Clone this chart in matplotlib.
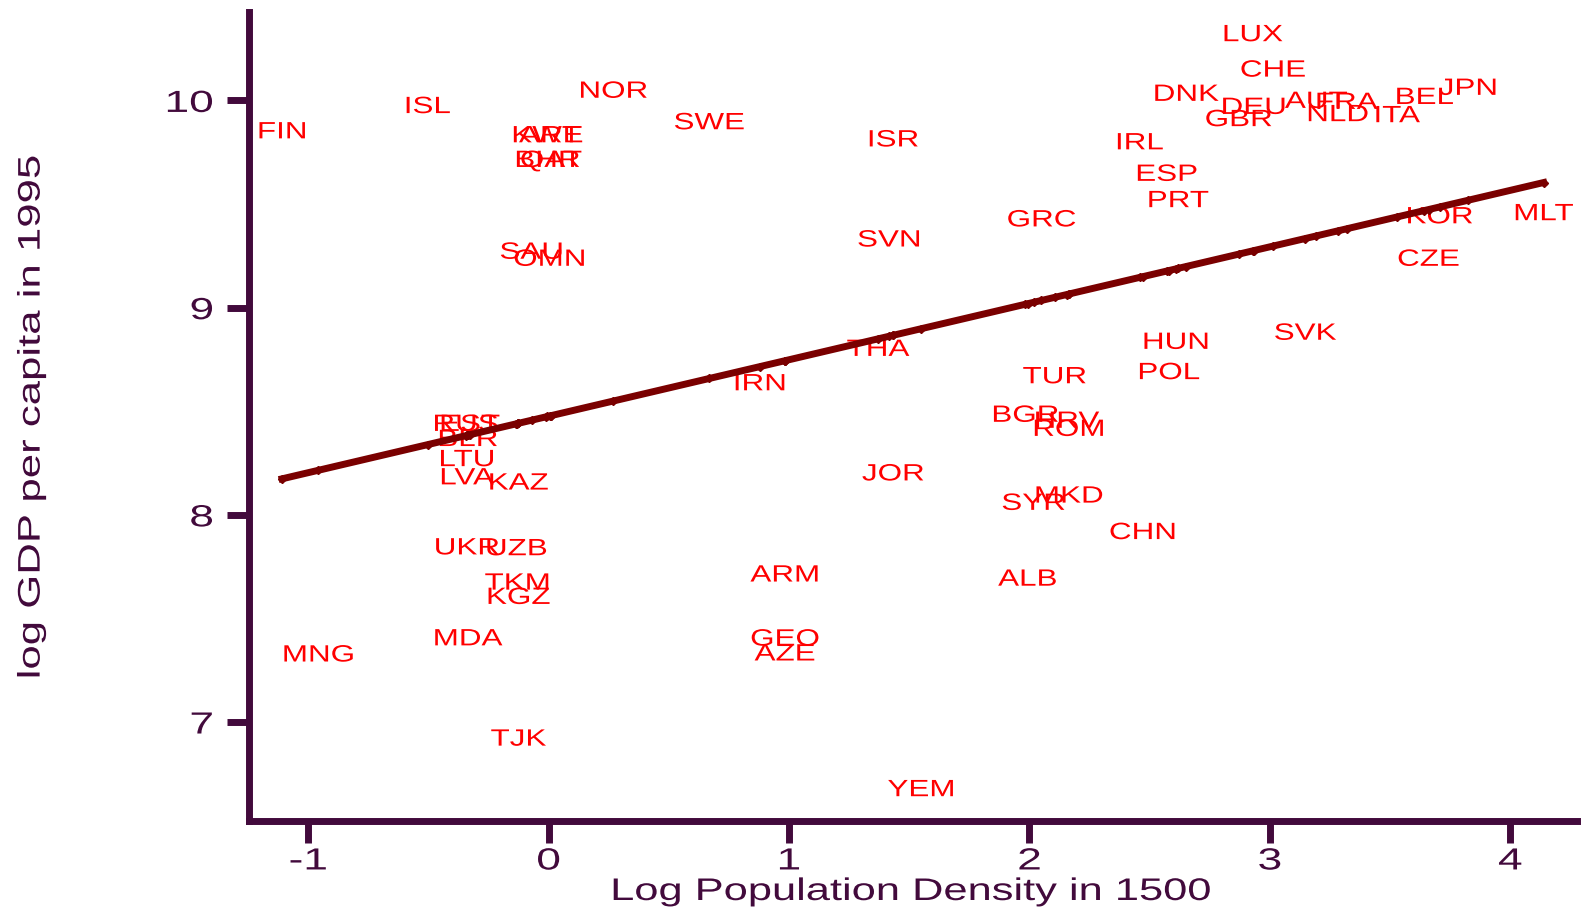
import matplotlib
matplotlib.use('Agg')
import matplotlib.pyplot as plt
import numpy as np
from matplotlib.patheffects import AbstractPathEffect
from matplotlib.transforms import Affine2D

# country codes with log pop density 1500 (x) and log GDP pc 1995 (y)
codes = ['FIN', 'ISL', 'NOR', 'SWE', 'KWT', 'ARE', 'BHR', 'QAT', 'SAU', 'OMN',
         'ISR', 'SVN', 'THA', 'IRN', 'GRC', 'IRL', 'ESP', 'PRT', 'DNK', 'LUX',
         'CHE', 'DEU', 'GBR', 'AUT', 'FRA', 'NLD', 'ITA', 'BEL', 'JPN', 'KOR',
         'MLT', 'CZE', 'SVK', 'HUN', 'POL', 'TUR', 'BGR', 'HRV', 'ROM', 'JOR',
         'SYR', 'MKD', 'CHN', 'ALB', 'ARM', 'GEO', 'AZE', 'YEM', 'TJK', 'MNG',
         'MDA', 'UKR', 'UZB', 'TKM', 'KGZ', 'LVA', 'KAZ', 'LTU', 'BLR', 'RUS',
         'EST']
logdens = [-1.109, -0.504, 0.269, 0.668, -0.010, 0.010, -0.005, 0.010, -0.071, 0.004,
           1.433, 1.416, 1.370, 0.878, 2.050, 2.458, 2.571, 2.618, 2.651, 2.929,
           3.013, 2.933, 2.870, 3.193, 3.319, 3.282, 3.529, 3.643, 3.824, 3.706,
           4.139, 3.660, 3.147, 2.609, 2.580, 2.105, 1.983, 2.155, 2.164, 1.433,
           2.017, 2.164, 2.471, 1.992, 0.983, 0.983, 0.983, 1.550, -0.126, -0.958,
           -0.336, -0.340, -0.134, -0.130, -0.126, -0.340, -0.126, -0.340, -0.336, -0.345,
           -0.328]
loggdp = [9.858, 9.980, 10.054, 9.902, 9.839, 9.839, 9.720, 9.720, 9.277, 9.243,
          9.819, 9.336, 8.808, 8.642, 9.433, 9.805, 9.653, 9.526, 10.039, 10.327,
          10.156, 9.976, 9.917, 10.005, 10.000, 9.941, 9.936, 10.024, 10.068, 9.448,
          9.463, 9.243, 8.886, 8.842, 8.696, 8.676, 8.490, 8.461, 8.422, 8.207,
          8.065, 8.100, 7.924, 7.699, 7.719, 7.410, 7.338, 6.683, 6.927, 7.333,
          7.411, 7.850, 7.846, 7.680, 7.611, 8.188, 8.163, 8.276, 8.373, 8.446,
          8.446]

# fitted line
fit_const = 8.476
fit_slope = 0.2725

AX_COLOR = '#420a3c'
plt.rcParams['font.family'] = ['Liberation Sans', 'DejaVu Sans']
plt.rcParams['axes.unicode_minus'] = False


class Widen(AbstractPathEffect):
    # the original font is a lot wider than Arial, stretch glyphs along the baseline
    def __init__(self, sx, anchor='center'):
        super().__init__()
        self.sx = sx
        self.anchor = anchor

    def draw_path(self, renderer, gc, tpath, affine, rgbFace=None):
        ext = tpath.get_extents()
        x0 = ext.x1 if self.anchor == 'right' else (ext.x0 + ext.x1) / 2
        tr = Affine2D().translate(-x0, 0).scale(self.sx, 1).translate(x0, 0) + affine
        renderer.draw_path(gc, tpath, tr, rgbFace)


fig = plt.figure(figsize=(15.85, 9.07), dpi=100)
ax = fig.add_axes([0.1574, 0.0943, 0.8376, 0.8925])

for c, x, y in zip(codes, logdens, loggdp):
    ax.text(x, y, c, color='#ff0000', fontsize=17, ha='center', va='center_baseline',
            path_effects=[Widen(1.33)], zorder=2)

xs = np.sort(np.array(logdens))
ax.plot(xs, fit_const + fit_slope * xs, color='#7a0000', lw=5, marker='D', ms=4,
        zorder=3)

ax.set_xlim(-1.2446, 4.278)
ax.set_ylim(6.52, 10.427)
ax.set_xticks([-1, 0, 1, 2, 3, 4])
ax.set_yticks([7, 8, 9, 10])

for s in ['top', 'right']:
    ax.spines[s].set_visible(False)
for s in ['left', 'bottom']:
    ax.spines[s].set_linewidth(5)
    ax.spines[s].set_color(AX_COLOR)

ax.tick_params(colors=AX_COLOR, width=5, length=16, labelsize=22)
ax.tick_params(axis='y', pad=10)
ax.tick_params(axis='x', pad=2)
plt.setp(ax.get_xticklabels(), path_effects=[Widen(1.45)])
plt.setp(ax.get_yticklabels(), path_effects=[Widen(1.45, 'right')])

ax.set_xlabel('Log Population Density in 1500', fontsize=22.5, color=AX_COLOR,
              path_effects=[Widen(1.39)])
ax.set_ylabel('log GDP per capita in 1995', fontsize=22.5, color=AX_COLOR,
              path_effects=[Widen(1.4)])
ax.xaxis.set_label_coords(0.4983, -0.0686)
ax.yaxis.set_label_coords(-0.1528, 0.5)

fig.savefig('out.png', dpi=100)
